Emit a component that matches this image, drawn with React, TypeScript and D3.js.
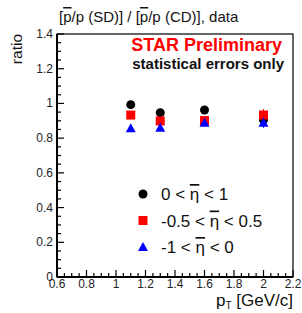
import React from "react";
import * as d3 from "d3";

const ptBins = [1.1, 1.3, 1.6, 2.0];
const etaPos = [0.993, 0.946, 0.962, 0.905];
const etaMid = [0.933, 0.899, 0.901, 0.933];
const etaNeg = [0.857, 0.86, 0.889, 0.889];
const errPos = [0.01, 0.01, 0.01, 0.015];
const errMid = [0.01, 0.01, 0.01, 0.035];
const errNeg = [0.01, 0.01, 0.01, 0.03];
const yTicks = [0, 0.2, 0.4, 0.6, 0.8, 1, 1.2, 1.4];
const xTicks = [0.6, 0.8, 1, 1.2, 1.4, 1.6, 1.8, 2, 2.2];
const legendLabels = [["0 < ", " < 1"], ["-0.5 < ", " < 0.5"], ["-1 < ", " < 0"]];

const W = 302;
const H = 313;
const m = { left: 57, right: 293, top: 34, bottom: 277 };
const font = "Liberation Sans, Arial, Helvetica, sans-serif";
const bar = { textDecoration: "overline" };

export default function App() {
  const x = d3.scaleLinear().domain([0.6, 2.2]).range([m.left, m.right]);
  const y = d3.scaleLinear().domain([0, 1.4]).range([m.bottom, m.top]);

  const yMinor = d3.range(0, 1.4001, 0.05);
  const xMinor = d3.range(0.6, 2.2001, 0.05);

  const circle = (cx, cy, fill) => <circle cx={cx} cy={cy} r={4.5} fill={fill} />;
  const square = (cx, cy, fill) => (
    <rect x={cx - 4.5} y={cy - 4.5} width={9} height={9} fill={fill} />
  );
  const tri = (cx, cy, fill) => (
    <path d={`M${cx},${cy - 5} L${cx + 5},${cy + 4} L${cx - 5},${cy + 4} Z`} fill={fill} />
  );

  const series = [
    { vals: etaPos, errs: errPos, color: "black", mark: circle },
    { vals: etaMid, errs: errMid, color: "#ff0000", mark: square },
    { vals: etaNeg, errs: errNeg, color: "#0000ff", mark: tri },
  ];

  return (
    <svg width={W} height={H} style={{ position: "absolute", left: 0, top: 0, background: "white" }}>
      <rect x={0} y={0} width={W} height={H} fill="white" />
      <text x={59} y={22} fontFamily={font} fontSize={15} fill="#111">
        [<tspan style={bar}>p</tspan>/p (SD)] / [<tspan style={bar}>p</tspan>/p (CD)], data
      </text>

      {/* frame */}
      <rect x={m.left} y={m.top} width={m.right - m.left} height={m.bottom - m.top}
        fill="none" stroke="black" strokeWidth={1.2} />
      <line x1={m.left} x2={m.left} y1={m.top} y2={m.bottom} stroke="black" strokeWidth={2} />
      <line x1={m.left} x2={m.right} y1={m.bottom} y2={m.bottom} stroke="black" strokeWidth={2} />

      {/* y ticks */}
      {yMinor.map((v, i) => (
        <line key={"ym" + i} x1={m.left} x2={m.left + (i % 4 === 0 ? 7 : 4)}
          y1={y(v)} y2={y(v)} stroke="black" strokeWidth={1.2} />
      ))}
      {yTicks.map((v) => (
        <text key={"yl" + v} x={m.left - 4} y={y(v) + 4} textAnchor="end"
          fontFamily={font} fontSize={12} fill="#222">{v}</text>
      ))}

      {/* x ticks */}
      {xMinor.map((v, i) => (
        <line key={"xm" + i} x1={x(v)} x2={x(v)} y1={m.bottom}
          y2={m.bottom - (i % 4 === 0 ? 7 : 4)} stroke="black" strokeWidth={1.2} />
      ))}
      {xTicks.map((v) => (
        <text key={"xl" + v} x={x(v)} y={287.5} textAnchor="middle"
          fontFamily={font} fontSize={12} fill="#222">{v}</text>
      ))}

      {/* axis titles */}
      <text transform={`translate(22,${m.top}) rotate(-90)`} textAnchor="end"
        fontFamily={font} fontSize={15.5} fill="#111">ratio</text>
      <text x={m.right} y={306} textAnchor="end" fontFamily={font} fontSize={17} fill="#111">
        p<tspan fontSize={10} dy={3}>T</tspan><tspan dy={-3}> [GeV/c]</tspan>
      </text>

      <text x={282} y={51} textAnchor="end" fontFamily={font} fontSize={18}
        fontWeight="bold" fill="#ff0000">STAR Preliminary</text>
      <text x={284} y={69} textAnchor="end" fontFamily={font} fontSize={15}
        fontWeight="bold" fill="#111">statistical errors only</text>

      {/* data */}
      {series.map((s, si) => (
        <g key={"s" + si}>
          {ptBins.map((p, i) => (
            <g key={i}>
              <line x1={x(p)} x2={x(p)} y1={y(s.vals[i] + s.errs[i])} y2={y(s.vals[i] - s.errs[i])}
                stroke={s.color} strokeWidth={1} />
              {s.mark(x(p), y(s.vals[i]), s.color)}
            </g>
          ))}
        </g>
      ))}

      {/* legend */}
      {series.map((s, i) => (
        <g key={"lg" + i}>
          {s.mark(143, 194 + i * 26.5, s.color)}
          <text x={161} y={200 + i * 26.5} fontFamily={font} fontSize={17} fill="#111">
            {legendLabels[i][0]}<tspan style={bar}>η</tspan>{legendLabels[i][1]}
          </text>
        </g>
      ))}
    </svg>
  );
}
